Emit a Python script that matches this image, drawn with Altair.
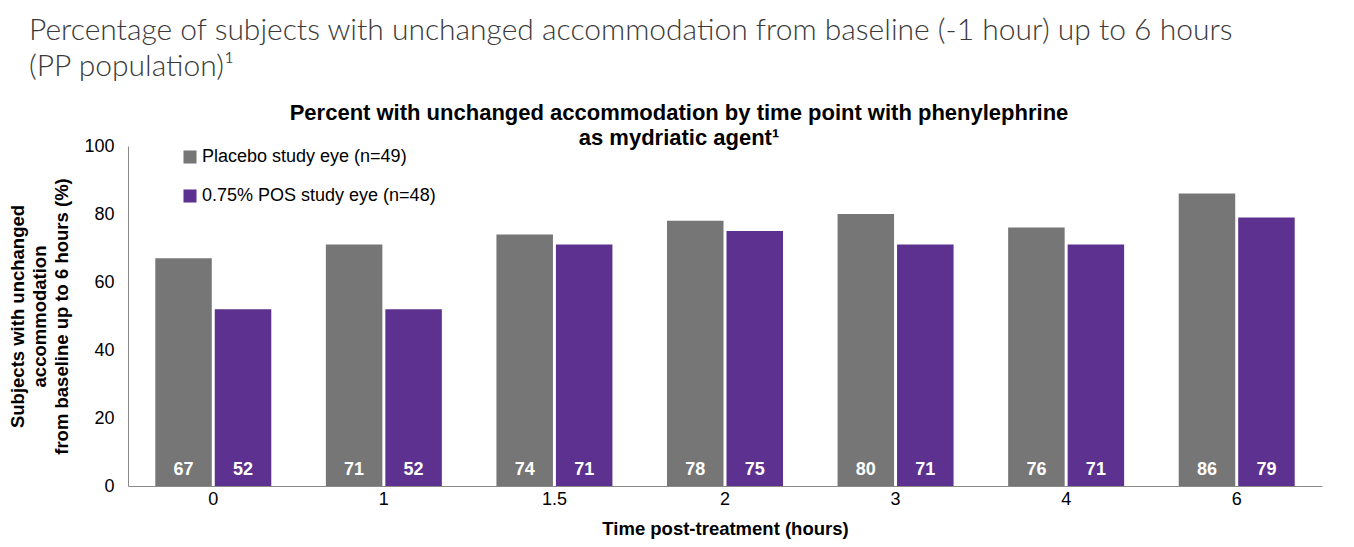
import altair as alt
import pandas as pd

times = ["0", "1", "1.5", "2", "3", "4", "6"]
placebo = [67, 71, 74, 78, 80, 76, 86]
pos = [52, 52, 71, 75, 71, 71, 79]
series = ["Placebo study eye (n=49)", "0.75% POS study eye (n=48)"]
colors = ["#767676", "#5C318F"]

rows = []
for t, a, b in zip(times, placebo, pos):
    rows.append({"time": t, "series": series[0], "value": a})
    rows.append({"time": t, "series": series[1], "value": b})
df = pd.DataFrame(rows)

x = alt.X("time:N", sort=times, title="Time post-treatment (hours)",
          scale=alt.Scale(paddingInner=0.32, paddingOuter=0.16),
          axis=alt.Axis(labelAngle=0, labelFontSize=18, labelColor="black",
                        labelFont="Arial", titleFont="Arial", titleFontSize=18.5,
                        titleFontWeight="bold", titleColor="black", ticks=False,
                        domainColor="#8a8a8a", labelPadding=4, titlePadding=11))
xo = alt.XOffset("series:N", sort=series, scale=alt.Scale(paddingInner=0.05))

base = alt.Chart(df)
bars = base.mark_bar().encode(
    x=x, xOffset=xo,
    y=alt.Y("value:Q", scale=alt.Scale(domain=[0, 100]),
            title=["Subjects with unchanged", "accommodation", "from baseline up to 6 hours (%)"],
            axis=alt.Axis(values=[0, 20, 40, 60, 80, 100], grid=False, ticks=False,
                          labelFontSize=18, labelColor="black", labelFont="Arial",
                          titleFont="Arial", titleFontSize=18.5, titleFontWeight="bold",
                          titleColor="black", domainColor="#8a8a8a", labelPadding=14,
                          titlePadding=12, titleLineHeight=22)),
    color=alt.Color("series:N", sort=series,
                    scale=alt.Scale(domain=series, range=colors),
                    legend=alt.Legend(title=None, orient="none", legendX=53, legendY=2,
                                      symbolType="square", symbolSize=170,
                                      symbolStrokeWidth=0, labelFontSize=18,
                                      labelFont="Arial", labelColor="black", labelLimit=0,
                                      rowPadding=21, labelOffset=3)),
)
labels = base.mark_text(color="white", fontSize=18, fontWeight="bold", font="Arial",
                        baseline="bottom", dy=-7).encode(
    x=x, xOffset=xo,
    y=alt.Y("zero:Q"),
    text="value:Q",
).transform_calculate(zero="0")

inner = alt.layer(bars, labels).properties(
    width=1194, height=340,
    title=alt.TitleParams(
        ["Percent with unchanged accommodation by time point with phenylephrine",
         "as mydriatic agent¹"],
        font="Arial", fontSize=22, fontWeight="bold", color="black",
        anchor="middle", lineHeight=25, offset=-13, dx=-46),
)

chart = alt.vconcat(inner).properties(
    title=alt.TitleParams(
        ["Percentage of subjects with unchanged accommodation from baseline (-1 hour) up to 6 hours",
         "(PP population)¹"],
        font="Lato", fontSize=30, fontWeight=300, color="#3a3a3a",
        anchor="start", lineHeight=36, offset=20, frame="bounds", dx=20),
).configure(
    padding={"left": 0, "top": 8, "right": 5, "bottom": 5}
).configure_view(strokeWidth=0, stroke="transparent")

chart.save("out.html", embed_options={"renderer": "svg", "actions": False})
